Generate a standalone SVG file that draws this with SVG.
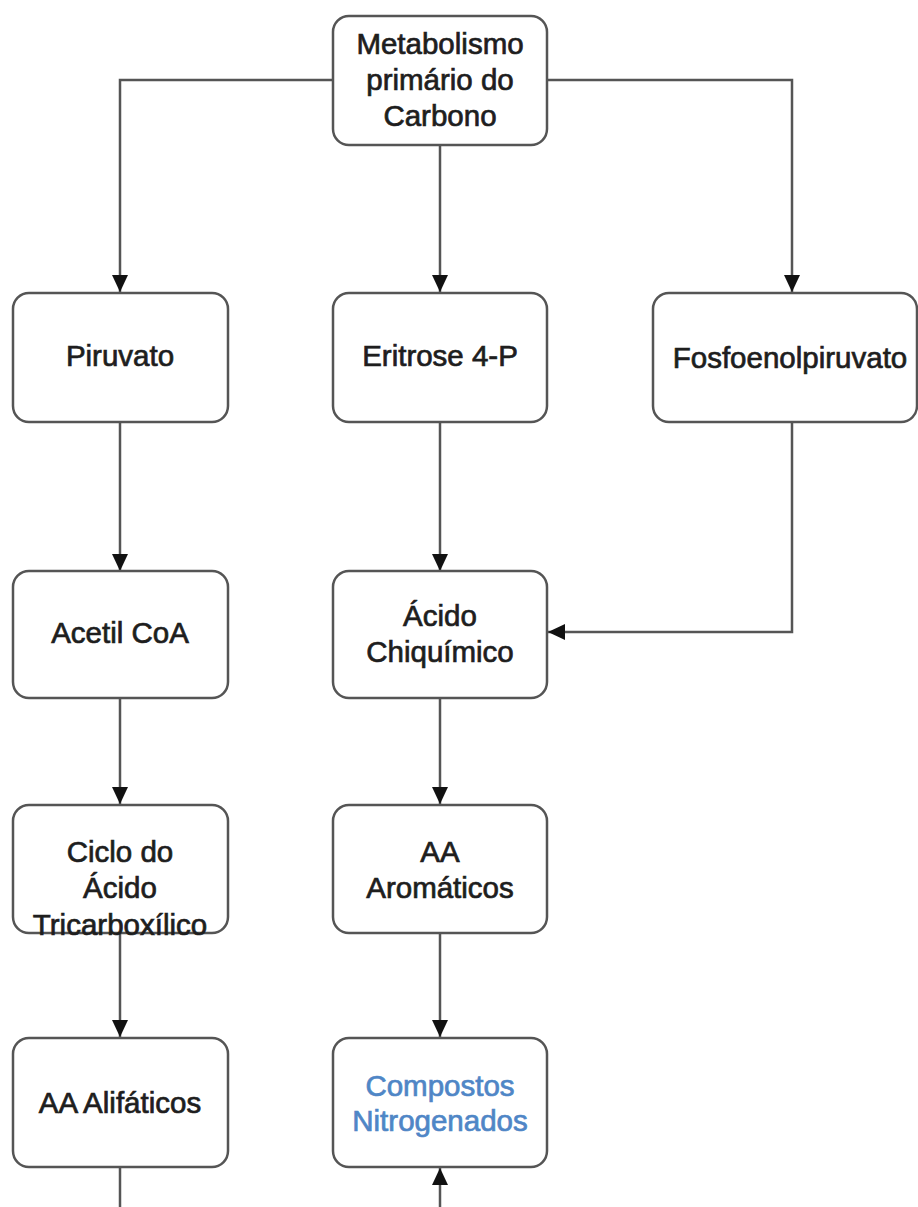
<svg xmlns="http://www.w3.org/2000/svg" width="918" height="1207" viewBox="0 0 918 1207">
<style>
.box{fill:#fff;stroke:#555;stroke-width:2.5}
.t{font-family:"Liberation Sans",Arial,sans-serif;font-size:29.5px;fill:#1e1e1e;stroke:#1e1e1e;stroke-width:0.7;text-anchor:middle}
.blue{fill:#4f86c6;stroke:#4f86c6}
.c{fill:none;stroke:#555;stroke-width:2.5}
</style>
<defs>
<marker id="ah" markerUnits="userSpaceOnUse" markerWidth="18" markerHeight="16" refX="17" refY="8" orient="auto">
<path d="M0,0 L17,8 L0,16 z" fill="#111"/>
</marker>
</defs>
<g id="connectors">
<path class="c" d="M333,80 H120 V292" marker-end="url(#ah)"/>
<path class="c" d="M547,80 H792 V292" marker-end="url(#ah)"/>
<path class="c" d="M440,145 V292" marker-end="url(#ah)"/>
<path class="c" d="M120,422 V571" marker-end="url(#ah)"/>
<path class="c" d="M440,422 V571" marker-end="url(#ah)"/>
<path class="c" d="M792,422 V632 H548" marker-end="url(#ah)"/>
<path class="c" d="M120,698 V804" marker-end="url(#ah)"/>
<path class="c" d="M440,698 V804" marker-end="url(#ah)"/>
<path class="c" d="M120,933 V1037" marker-end="url(#ah)"/>
<path class="c" d="M440,933 V1037" marker-end="url(#ah)"/>
<path class="c" d="M120,1167 V1207"/>
<path class="c" d="M440,1207 V1168" marker-end="url(#ah)"/>
</g>
<g id="metabolismo">
<rect class="box" x="333" y="16" width="214" height="129" rx="16"/>
<text class="t" x="440" y="54">Metabolismo</text>
<text class="t" x="440" y="90">primário do</text>
<text class="t" x="440" y="126">Carbono</text>
</g>
<g id="piruvato">
<rect class="box" x="13" y="293" width="215" height="129" rx="16"/>
<text class="t" x="120" y="366">Piruvato</text>
</g>
<g id="eritrose">
<rect class="box" x="333" y="293" width="214" height="129" rx="16"/>
<text class="t" x="440" y="366">Eritrose 4-P</text>
</g>
<g id="fosfoenolpiruvato">
<rect class="box" x="653" y="293" width="264" height="129" rx="16"/>
<text class="t" x="790" y="368">Fosfoenolpiruvato</text>
</g>
<g id="acetil">
<rect class="box" x="13" y="571" width="215" height="127" rx="16"/>
<text class="t" x="120" y="643">Acetil CoA</text>
</g>
<g id="chiquimico">
<rect class="box" x="333" y="571" width="214" height="127" rx="16"/>
<text class="t" x="440" y="626">Ácido</text>
<text class="t" x="440" y="662">Chiquímico</text>
</g>
<g id="ciclo">
<rect class="box" x="13" y="805" width="215" height="128" rx="16"/>
<text class="t" x="120" y="862">Ciclo do</text>
<text class="t" x="120" y="898">Ácido</text>
<text class="t" x="120" y="935">Tricarboxílico</text>
</g>
<g id="aromaticos">
<rect class="box" x="333" y="805" width="214" height="128" rx="16"/>
<text class="t" x="440" y="862">AA</text>
<text class="t" x="440" y="898">Aromáticos</text>
</g>
<g id="alifaticos">
<rect class="box" x="13" y="1038" width="215" height="129" rx="16"/>
<text class="t" x="120" y="1113">AA Alifáticos</text>
</g>
<g id="compostos">
<rect class="box" x="333" y="1038" width="214" height="129" rx="16"/>
<text class="t blue" x="440" y="1096">Compostos</text>
<text class="t blue" x="440" y="1131">Nitrogenados</text>
</g>
</svg>
